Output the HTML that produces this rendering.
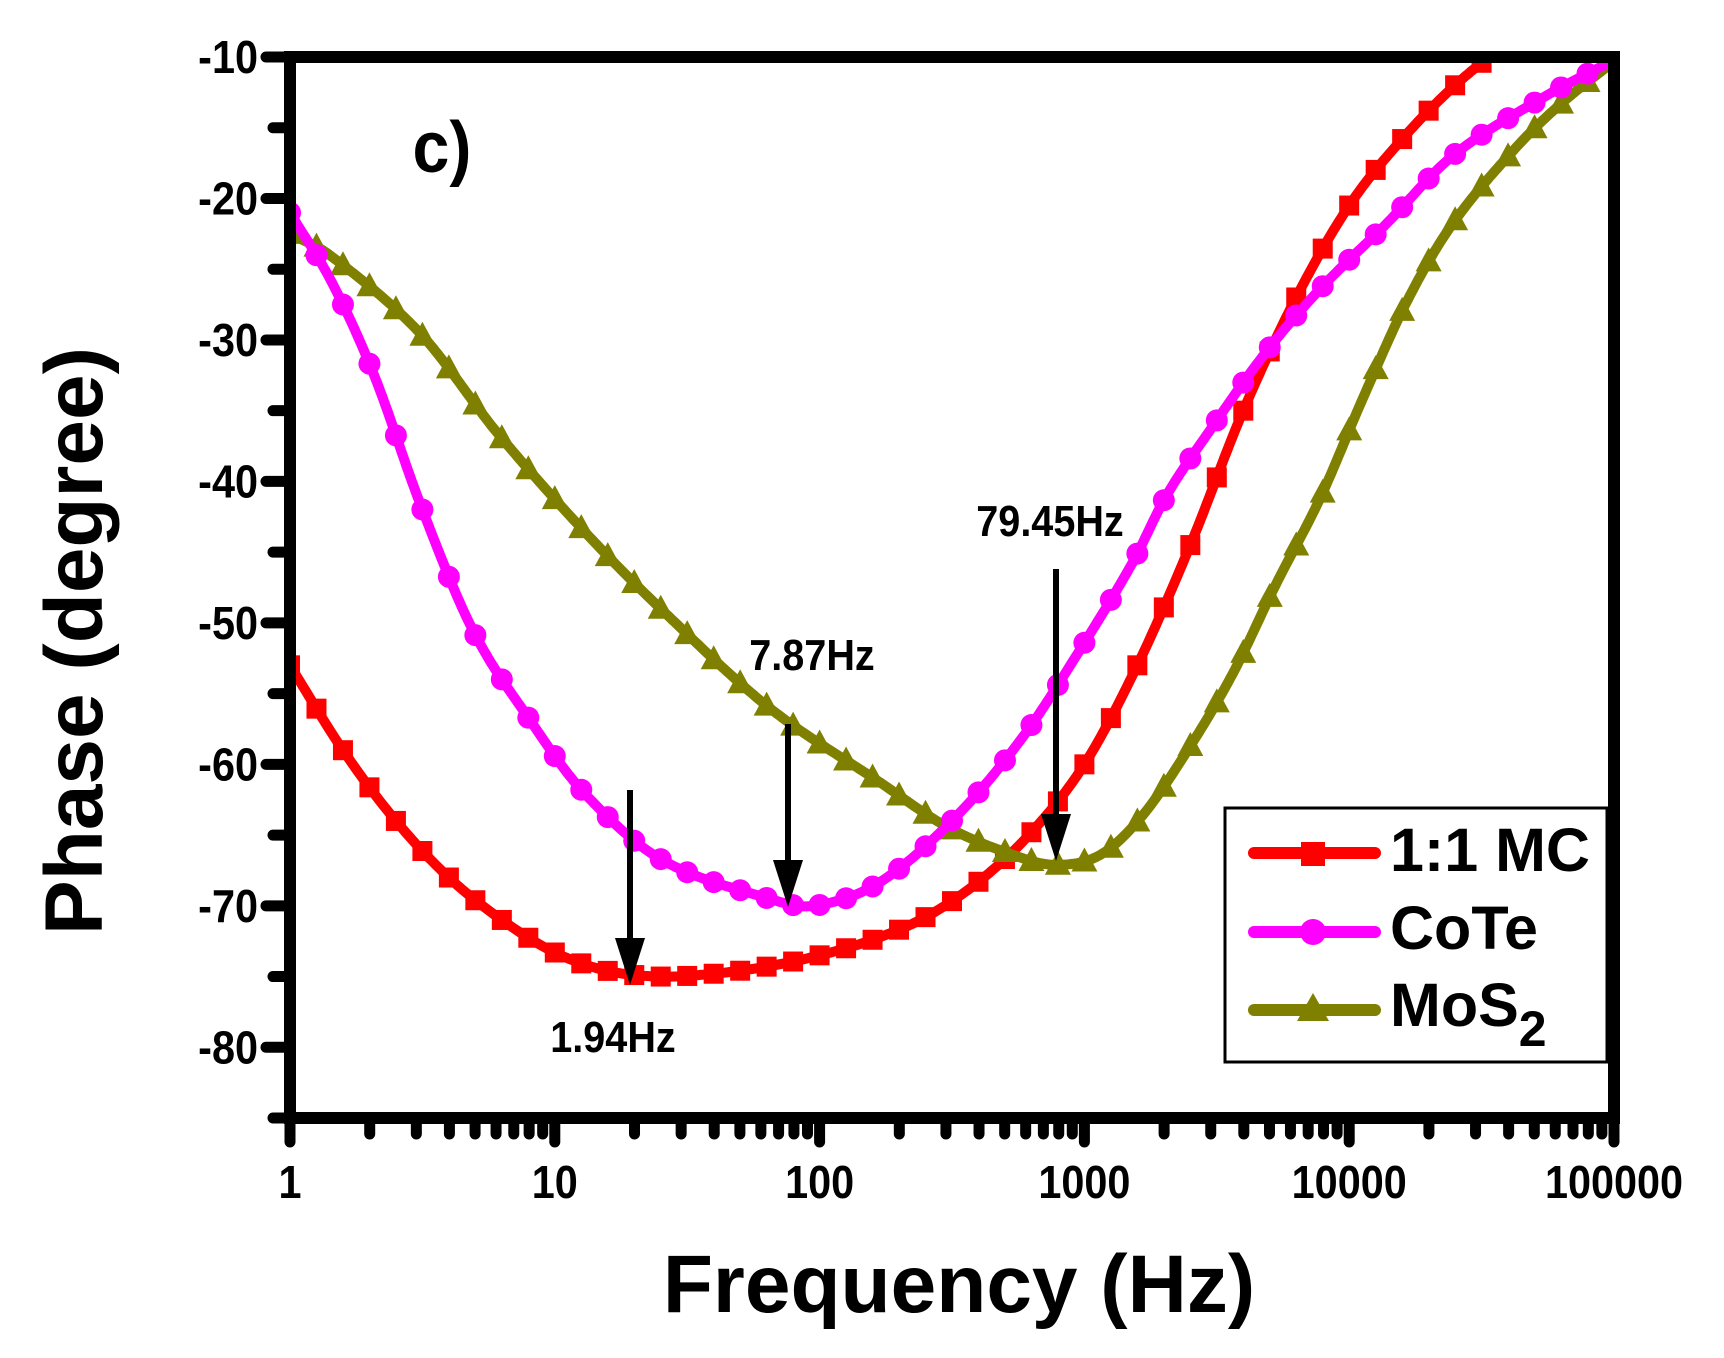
<!DOCTYPE html>
<html><head><meta charset="utf-8"><style>
html,body{margin:0;padding:0;background:#fff;}
svg{display:block;font-family:"Liberation Sans",Arial,sans-serif;font-weight:bold;}
</style></head><body>
<svg id="s" width="1724" height="1358" viewBox="0 0 1724 1358" xmlns="http://www.w3.org/2000/svg">
<defs><clipPath id="cp"><rect x="290" y="57" width="1324" height="1061"/></clipPath></defs>
<g id="series" clip-path="url(#cp)"></g>
<g id="axes"></g>
<text x="442" y="172" font-size="72" text-anchor="middle" transform="translate(442,0) scale(0.92,1) translate(-442,0)">c)</text>
<g stroke="#000" stroke-width="6">
<line x1="630" y1="790" x2="630" y2="950"/>
<line x1="788" y1="724" x2="788" y2="872"/>
<line x1="1056" y1="569" x2="1056" y2="826"/>
</g>
<g fill="#000">
<polygon points="615,938 645,938 630,985"/>
<polygon points="773,860 803,860 788,907"/>
<polygon points="1041,814 1071,814 1056,861"/>
</g>
<g font-size="44">
<text transform="translate(613,1052) scale(0.9,1)" text-anchor="middle">1.94Hz</text>
<text transform="translate(812,670) scale(0.9,1)" text-anchor="middle">7.87Hz</text>
<text transform="translate(1050,536) scale(0.9,1)" text-anchor="middle">79.45Hz</text>
</g>
<rect x="1225" y="808" width="382" height="254" fill="#fff" stroke="#000" stroke-width="3"/>
<g stroke-width="12" stroke-linecap="round">
<line x1="1254" y1="853" x2="1375" y2="853" stroke="#ff0000"/>
<line x1="1254" y1="932" x2="1375" y2="932" stroke="#ff00ff"/>
<line x1="1254" y1="1010" x2="1375" y2="1010" stroke="#808000"/>
</g>
<rect x="1301" y="842" width="24" height="24" fill="#ff0000"/>
<circle cx="1313" cy="932" r="13" fill="#ff00ff"/>
<polygon points="1297,1021 1329,1021 1313,993" fill="#808000"/>
<g font-size="61">
<text x="1390" y="871">1:1 MC</text>
<text x="1390" y="949">CoTe</text>
<text x="1390" y="1026">MoS<tspan font-size="50" dy="20">2</tspan></text>
</g>
<text x="959" y="1312" font-size="82" text-anchor="middle">Frequency (Hz)</text>
<text transform="translate(102,641) rotate(-90)" font-size="82" text-anchor="middle">Phase (degree)</text>
</svg>
<script>
var NS="http://www.w3.org/2000/svg";
var X0=290,DEC=264.8,Y0=57,PD=14.147;
function px(l){return X0+l*DEC;}function py(d){return Y0+(-10-d)*PD;}
function el(t,a,p){var e=document.createElementNS(NS,t);for(var k in a)e.setAttribute(k,a[k]);p.appendChild(e);return e;}
var red=[[0,-53],[0.2,-59],[0.4,-64],[0.6,-68],[0.8,-71],[1.0,-73.3],[1.2,-74.6],[1.4,-75],[1.6,-74.8],[1.8,-74.3],[2.0,-73.5],[2.2,-72.4],[2.4,-70.8],[2.6,-68.3],[2.8,-64.8],[3.0,-60],[3.2,-53],[3.4,-44.5],[3.6,-35],[3.8,-27],[4.0,-20.5],[4.2,-15.8],[4.4,-12],[4.6,-9],[5,-4]];
var mag=[[0,-21],[0.16,-26],[0.32,-32.6],[0.49,-41.5],[0.69,-50.5],[0.9,-56.7],[1.11,-62],[1.4,-66.7],[1.81,-69.5],[1.98,-70],[2.23,-68.3],[2.52,-63.6],[2.77,-58],[2.98,-52],[3.18,-45.8],[3.31,-41],[3.47,-36.5],[3.68,-31],[3.89,-26.4],[4.14,-21.8],[4.39,-17],[4.72,-13],[5,-10.2]];
var oli=[[0,-22.5],[0.15,-24],[0.49,-29.5],[0.78,-36.5],[1.11,-43.5],[1.4,-49],[1.81,-56],[2.23,-61.3],[2.48,-64.4],[2.73,-66.4],[2.89,-67.1],[3.06,-66.4],[3.22,-63.6],[3.39,-59],[3.56,-53.6],[3.72,-47.4],[3.89,-41.2],[4.05,-34.2],[4.22,-27.2],[4.39,-21.8],[4.63,-16.4],[4.8,-13.3],[5,-10.3]];
function interp(p,l){for(var i=0;i<p.length-1;i++){if(l<=p[i+1][0]){var a=p[i],b=p[i+1];
var p0=p[Math.max(i-1,0)],p3=p[Math.min(i+2,p.length-1)];var t=(l-a[0])/(b[0]-a[0]);
var m1=(b[1]-p0[1])/(b[0]-p0[0])*(b[0]-a[0]),m2=(p3[1]-a[1])/(p3[0]-a[0])*(b[0]-a[0]);
var t2=t*t,t3=t2*t;return (2*t3-3*t2+1)*a[1]+(t3-2*t2+t)*m1+(-2*t3+3*t2)*b[1]+(t3-t2)*m2;}}return p[p.length-1][1];}
var g=document.getElementById("series");
function series(p,col,mk){var pts=[];for(var i=0;i<=500;i++){var l=i/100;pts.push(px(l).toFixed(1)+","+py(interp(p,l)).toFixed(1));}
el("polyline",{points:pts.join(" "),fill:"none",stroke:col,"stroke-width":10,"stroke-linejoin":"round"},g);
for(var i=0;i<=50;i++){var l=i/10,x=px(l),y=py(interp(p,l));
if(mk=="s")el("rect",{x:x-10,y:y-10,width:20,height:20,fill:col},g);
else if(mk=="c")el("circle",{cx:x,cy:y,r:11,fill:col},g);
else el("polygon",{points:(x-13)+","+(y+10)+" "+(x+13)+","+(y+10)+" "+x+","+(y-14),fill:col},g);}}
series(red,"#ff0000","s");series(oli,"#808000","t");series(mag,"#ff00ff","c");
var ax=document.getElementById("axes");
el("rect",{x:290,y:57,width:1324,height:1061,fill:"none",stroke:"#000","stroke-width":12},ax);
for(var d=0;d<5;d++)for(var k=1;k<=9;k++){var l=d+Math.log10(k);var x=px(l);
el("line",{x1:x,y1:1118,x2:x,y2:k==1?1142:1134,stroke:"#000","stroke-width":11,"stroke-linecap":"round"},ax);}
el("line",{x1:px(5),y1:1118,x2:px(5),y2:1142,stroke:"#000","stroke-width":11,"stroke-linecap":"round"},ax);
var labs=["1","10","100","1000","10000","100000"];
for(var i=0;i<6;i++){var t=el("text",{transform:"translate("+px(i)+",1198) scale(0.9,1)","font-size":46,"text-anchor":"middle"},ax);t.textContent=labs[i];}
for(var v=-10;v>=-85;v-=5){var y=py(v),maj=(v%10==0);
el("line",{x1:290,y1:y,x2:maj?266:273,y2:y,stroke:"#000","stroke-width":11,"stroke-linecap":"round"},ax);
if(maj){var t=el("text",{transform:"translate(258,"+(y+16)+") scale(0.9,1)","font-size":46,"text-anchor":"end"},ax);t.textContent=v;}}
</script>
</body></html>
